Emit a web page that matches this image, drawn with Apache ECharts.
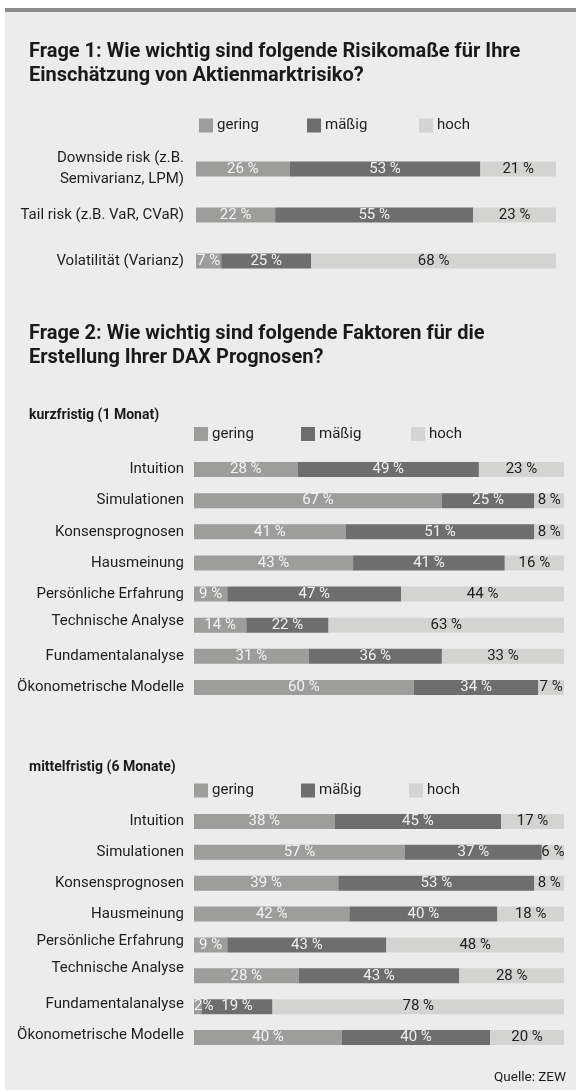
<!DOCTYPE html>
<html><head><meta charset="utf-8">
<script src="https://cdn.jsdelivr.net/npm/echarts/dist/echarts.min.js"></script>
<style>html,body{margin:0;padding:0;background:#fff}#c{width:576px;height:1090px}</style>
</head><body><div id="c"></div>
<script>
const seriesNames = ['gering', 'mäßig', 'hoch'];
const q1Categories = ['Downside risk (z.B.\nSemivarianz, LPM)', 'Tail risk (z.B. VaR, CVaR)', 'Volatilität (Varianz)'];
const q1Gering = [26, 22, 7];
const q1Maessig = [53, 55, 25];
const q1Hoch = [21, 23, 68];
const q2Categories = ['Intuition', 'Simulationen', 'Konsensprognosen', 'Hausmeinung', 'Persönliche Erfahrung', 'Technische Analyse', 'Fundamentalanalyse', 'Ökonometrische Modelle'];
const kurzGering = [28, 67, 41, 43, 9, 14, 31, 60];
const kurzMaessig = [49, 25, 51, 41, 47, 22, 36, 34];
const kurzHoch = [23, 8, 8, 16, 44, 63, 33, 7];
const mittelGering = [38, 57, 39, 42, 9, 28, 2, 40];
const mittelMaessig = [45, 37, 53, 40, 43, 43, 19, 40];
const mittelHoch = [17, 6, 8, 18, 48, 28, 78, 20];

const FONT = 'Roboto';
const COLORS = ['#9d9d9c', '#6f6e6e', '#d3d3d2'];
const LABEL_COLORS = ['#f3f3f3', '#f0f0f0', '#1e1e1e'];
const TEXT = '#1e1e1e';

// upward nudges (px) of individual category labels, as in the original layout
const panels = [
  { cats: q1Categories, vals: [q1Gering, q1Maessig, q1Hoch], grid: { left: 196, width: 360, top: 146, height: 138 }, margin: 12,
    legend: { lefts: [199, 307, 419], top: 118 }, nudge: [0, 0, 0] },
  { cats: q2Categories, vals: [kurzGering, kurzMaessig, kurzHoch], grid: { left: 194, width: 370, top: 454, height: 249 }, margin: 10,
    legend: { lefts: [194, 301, 411], top: 426.5 }, nudge: [0, 0, 0, 0, 0, 4, 0, 0] },
  { cats: q2Categories, vals: [mittelGering, mittelMaessig, mittelHoch], grid: { left: 194, width: 370, top: 806, height: 247 }, margin: 10,
    legend: { lefts: [194, 301, 409], top: 783 }, nudge: [0, 0, 0, 0, 4, 8, 2, 2] }
];

const labelFont = { color: TEXT, fontFamily: FONT, fontSize: 15, lineHeight: 21 };
const rich = {};
[2, 4, 6, 8, 10, 12].forEach(n => { rich['u' + n] = Object.assign({ padding: [0, 0, 2 * n, 0] }, labelFont); });

const grid = [], xAxis = [], yAxis = [], series = [], legend = [];
panels.forEach((p, i) => {
  grid.push(Object.assign({ containLabel: false }, p.grid));
  xAxis.push({ type: 'value', gridIndex: i, min: 0, max: 100, show: false });
  yAxis.push({ type: 'category', gridIndex: i, data: p.cats, inverse: true,
    axisLine: { show: false }, axisTick: { show: false },
    axisLabel: Object.assign({ margin: p.margin, align: 'right', rich,
      formatter: (v, idx) => p.nudge[idx] ? '{u' + p.nudge[idx] + '|' + v + '}' : v }, labelFont) });
  const sums = p.cats.map((c, k) => p.vals[0][k] + p.vals[1][k] + p.vals[2][k]);
  seriesNames.forEach((name, s) => {
    series.push({
      type: 'bar', name, xAxisIndex: i, yAxisIndex: i, stack: 'st' + i, barWidth: 15,
      itemStyle: { color: COLORS[s] },
      label: { show: true, position: 'inside', color: LABEL_COLORS[s], fontFamily: FONT, fontSize: 15,
        formatter: (q) => q.data.raw + (q.data.raw < 3 ? '%' : ' %') },
      data: p.vals[s].map((v, k) => {
        const item = { value: v * 100 / sums[k], raw: v };
        if (v < 3) item.label = { position: 'insideLeft', distance: 0 };
        return item;
      })
    });
    legend.push({ data: [name], left: p.legend.lefts[s], top: p.legend.top, padding: 0, itemWidth: 14, itemHeight: 14,
      icon: 'rect', selectedMode: false, itemGap: 0,
      textStyle: { color: TEXT, fontFamily: FONT, fontSize: 15, padding: [0, 0, 0, -1] } });
  });
});

const titleStyle = { fontFamily: FONT, fontSize: 20, fontWeight: 'bold', color: '#1a1a1a', lineHeight: 24 };
const subStyle = { fontFamily: FONT, fontSize: 14, fontWeight: 'bold', color: '#1a1a1a', lineHeight: 16 };
const titles = [
  { text: 'Frage 1: Wie wichtig sind folgende Risikomaße für Ihre\nEinschätzung von Aktienmarktrisiko?', left: 29, top: 40, textStyle: titleStyle },
  { text: 'Frage 2: Wie wichtig sind folgende Faktoren für die\nErstellung Ihrer DAX Prognosen?', left: 29, top: 322, textStyle: titleStyle },
  { text: 'kurzfristig (1 Monat)', left: 29, top: 407, textStyle: subStyle },
  { text: 'mittelfristig (6 Monate)', left: 29, top: 759, textStyle: subStyle },
  { text: 'Quelle: ZEW', right: 10, top: 1070,
    textStyle: { fontFamily: FONT, fontSize: 13.5, fontWeight: 'normal', color: '#1a1a1a', lineHeight: 16 } }
].map(t => Object.assign({ padding: 0 }, t));

const chart = echarts.init(document.getElementById('c'), null, { renderer: 'canvas' });
chart.setOption({
  animation: false,
  backgroundColor: '#ffffff',
  title: titles,
  graphic: [
    { type: 'rect', shape: { x: 5, y: 12, width: 571, height: 1078 }, style: { fill: '#ececec' }, z: -10, silent: true },
    { type: 'rect', shape: { x: 5, y: 8, width: 571, height: 4 }, style: { fill: '#8d8d8d' }, z: -10, silent: true }
  ],
  legend, grid, xAxis, yAxis, series
});
</script></body></html>
